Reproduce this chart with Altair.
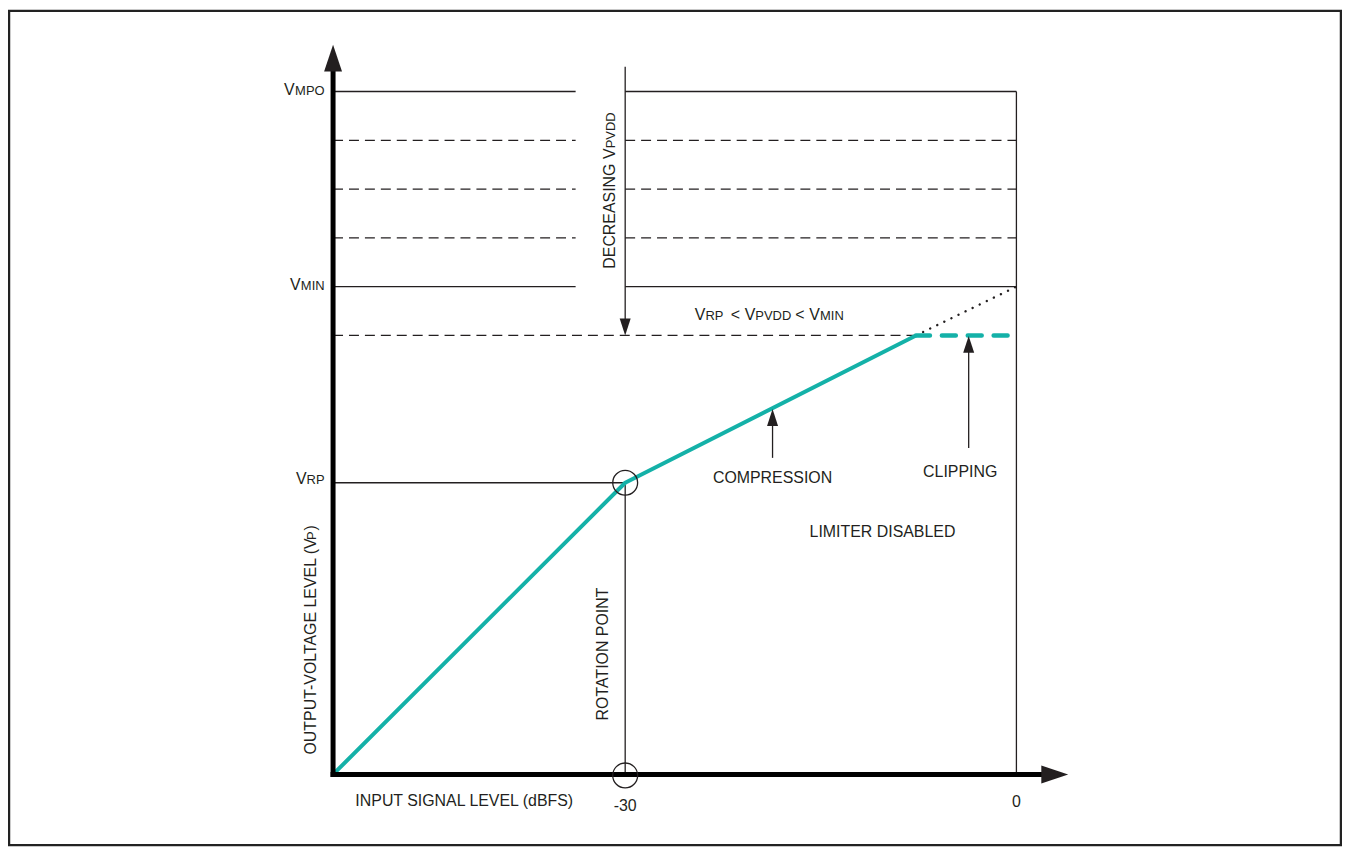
import altair as alt
import pandas as pd

# ---------------- data ----------------
# x: input signal level (dBFS), y: output-voltage level (relative units)
X_ORIGIN = -52.4
X_ROT = -30.0
X_ZERO = 0.0
X_GAP = -33.8          # left supply-level lines stop here (room for the arrow label)
X_CLIP = -7.7          # compression meets the clipping level
X_COMP_ARROW = -18.7
X_CLIP_ARROW = -3.66
X_AXIS_END = 2.0
X_AXIS_HEAD = 2.94

V_RP = 2.93
V_CLIP = 4.41
V_MIN = 4.90
V_STEPS = [5.39, 5.88, 6.37]
V_MPO = 6.86
Y_AXIS_END = 7.08
Y_AXIS_HEAD = 7.195
DEC_TOP = 7.11

# limiter transfer curve
curve_x = [X_ORIGIN, X_ROT, X_CLIP]
curve_y = [0.0, V_RP, V_CLIP]

# thin solid segments (x, y, x2, y2)
solid_segments = [
    (X_ORIGIN, V_MPO, X_GAP, V_MPO), (X_ROT, V_MPO, X_ZERO, V_MPO),
    (X_ORIGIN, V_MIN, X_GAP, V_MIN), (X_ROT, V_MIN, X_ZERO, V_MIN),
    (X_ORIGIN, V_RP, X_ROT, V_RP),
    (X_ROT, 0.0, X_ROT, V_RP),
    (X_ZERO, 0.0, X_ZERO, V_MPO),
    (X_ROT, DEC_TOP, X_ROT, 4.55),
    (X_COMP_ARROW, 3.18, X_COMP_ARROW, 3.55),
    (X_CLIP_ARROW, 3.28, X_CLIP_ARROW, 4.25),
]
# thin dashed segments
dashed_segments = [(X_ORIGIN, v, X_GAP, v) for v in V_STEPS] + \
                  [(X_ROT, v, X_ZERO, v) for v in V_STEPS] + \
                  [(X_ORIGIN, V_CLIP, X_CLIP, V_CLIP)]
# axes
axis_segments = [(X_ORIGIN, 0.0, X_AXIS_END, 0.0), (X_ORIGIN, 0.0, X_ORIGIN, Y_AXIS_END)]
# clipping (teal dashed) and limiter-disabled extension (dotted)
clip_segments = [(X_CLIP, V_CLIP, X_ZERO, V_CLIP)]
dotted_segments = [(X_CLIP, V_CLIP, X_ZERO, V_MIN)]

# arrow heads (x, y, angle)
big_heads = [(X_ORIGIN, Y_AXIS_HEAD, 0), (X_AXIS_HEAD, 0.0, 90)]
small_heads = [(X_ROT, 4.495, 180), (X_COMP_ARROW, 3.585, 0), (X_CLIP_ARROW, 4.32, 0)]
circles = [(X_ROT, V_RP), (X_ROT, -0.01)]

# text pieces: (text, x, y, font size)
BIG = 16
SUB = 13
labels_left = [
    ("V", -24.66, 4.56, BIG), ("RP", -23.84, 4.56, SUB), ("<", -21.91, 4.56, BIG),
    ("V", -20.84, 4.56, BIG), ("PVDD", -20.02, 4.56, SUB), ("<", -16.95, 4.56, BIG),
    ("V", -15.88, 4.56, BIG), ("MIN", -15.06, 4.56, SUB),
    ("INPUT SIGNAL LEVEL (dBFS)", -50.69, -0.32, BIG),
]
labels_right = [
    ("V", -55.34, 6.83, BIG), ("MPO", -53.05, 6.83, SUB),
    ("V", -54.89, 4.87, BIG), ("MIN", -53.05, 4.87, SUB),
    ("V", -54.43, 2.92, BIG), ("RP", -53.05, 2.92, SUB),
]
labels_center = [
    ("-30", -30.0, -0.37, BIG), ("0", 0.0, -0.33, BIG),
    ("COMPRESSION", -18.7, 2.93, BIG), ("CLIPPING", -4.31, 2.99, BIG),
    ("LIMITER DISABLED", -10.27, 2.39, BIG),
]
labels_rot_left = [
    ("DECREASING V", -30.76, 5.08, BIG), ("PVDD", -30.76, 6.29, SUB),
    ("OUTPUT-VOLTAGE LEVEL (V", -53.74, 0.20, BIG), ("P", -53.74, 2.355, SUB),
    (")", -53.74, 2.45, BIG),
]
labels_rot_center = [("ROTATION POINT", -31.3, 1.21, BIG)]

# ---------------- chart ----------------
INK = "#231f20"
TEAL = "#14b1a8"
FONT = "Liberation Sans, Arial, sans-serif"

xs = alt.Scale(domain=[-77.25, 24.89], nice=False, zero=False)
ys = alt.Scale(domain=[-0.71, 7.67], nice=False, zero=False)


def seg_df(segs):
    return pd.DataFrame(segs, columns=["x", "y", "x2", "y2"])


def rules(segs, **mark):
    return alt.Chart(seg_df(segs)).mark_rule(**mark).encode(
        x=alt.X("x:Q", scale=xs, axis=None),
        y=alt.Y("y:Q", scale=ys, axis=None),
        x2="x2:Q", y2="y2:Q",
    )


def texts(rows, align, angle=0):
    df = pd.DataFrame(rows, columns=["text", "x", "y", "size"])
    return alt.Chart(df).mark_text(
        align=align, baseline="alphabetic", angle=angle, font=FONT, color=INK
    ).encode(
        x=alt.X("x:Q", scale=xs, axis=None),
        y=alt.Y("y:Q", scale=ys, axis=None),
        text="text:N",
        size=alt.Size("size:Q", scale=None, legend=None),
    )


def heads(rows, path, size):
    df = pd.DataFrame(rows, columns=["x", "y", "angle"])
    return alt.Chart(df).mark_point(
        shape=path, size=size, filled=True, color=INK, opacity=1, strokeWidth=0
    ).encode(
        x=alt.X("x:Q", scale=xs, axis=None),
        y=alt.Y("y:Q", scale=ys, axis=None),
        angle=alt.Angle("angle:Q", scale=None),
    )


curve = alt.Chart(pd.DataFrame({"x": curve_x, "y": curve_y, "o": range(len(curve_x))})).mark_line(
    color=TEAL, strokeWidth=4, strokeJoin="round"
).encode(
    x=alt.X("x:Q", scale=xs, axis=None),
    y=alt.Y("y:Q", scale=ys, axis=None),
    order="o:Q",
)

circ = alt.Chart(pd.DataFrame(circles, columns=["x", "y"])).mark_point(
    shape="circle", size=625, filled=False, color=INK, strokeWidth=1.3, opacity=1
).encode(
    x=alt.X("x:Q", scale=xs, axis=None),
    y=alt.Y("y:Q", scale=ys, axis=None),
)

chart = alt.layer(
    rules(dashed_segments, color=INK, strokeWidth=1.3, strokeDash=[10, 6]),
    rules(solid_segments, color=INK, strokeWidth=1.3),
    rules(dotted_segments, color=INK, strokeWidth=2.4, strokeDash=[0.1, 7.8], strokeCap="round"),
    curve,
    rules(clip_segments, color=TEAL, strokeWidth=4.5, strokeDash=[14, 12], strokeCap="round"),
    rules(axis_segments, color="#000000", strokeWidth=5, strokeCap="square"),
    heads(big_heads, "M-0.667,1L0,-1L0.667,1Z", 729),
    heads(small_heads, "M-0.65,1L0,-1L0.65,1Z", 289),
    circ,
    texts(labels_left, "left"),
    texts(labels_right, "right"),
    texts(labels_center, "center"),
    texts(labels_rot_left, "left", 270),
    texts(labels_rot_center, "center", 270),
).properties(
    width=1338, height=838, padding=1,
    autosize=alt.AutoSizeParams(type="none"),
    background="white",
).configure_view(stroke="#222222", strokeWidth=2.5)

chart.save("out.html", embed_options={"renderer": "svg", "actions": False})
